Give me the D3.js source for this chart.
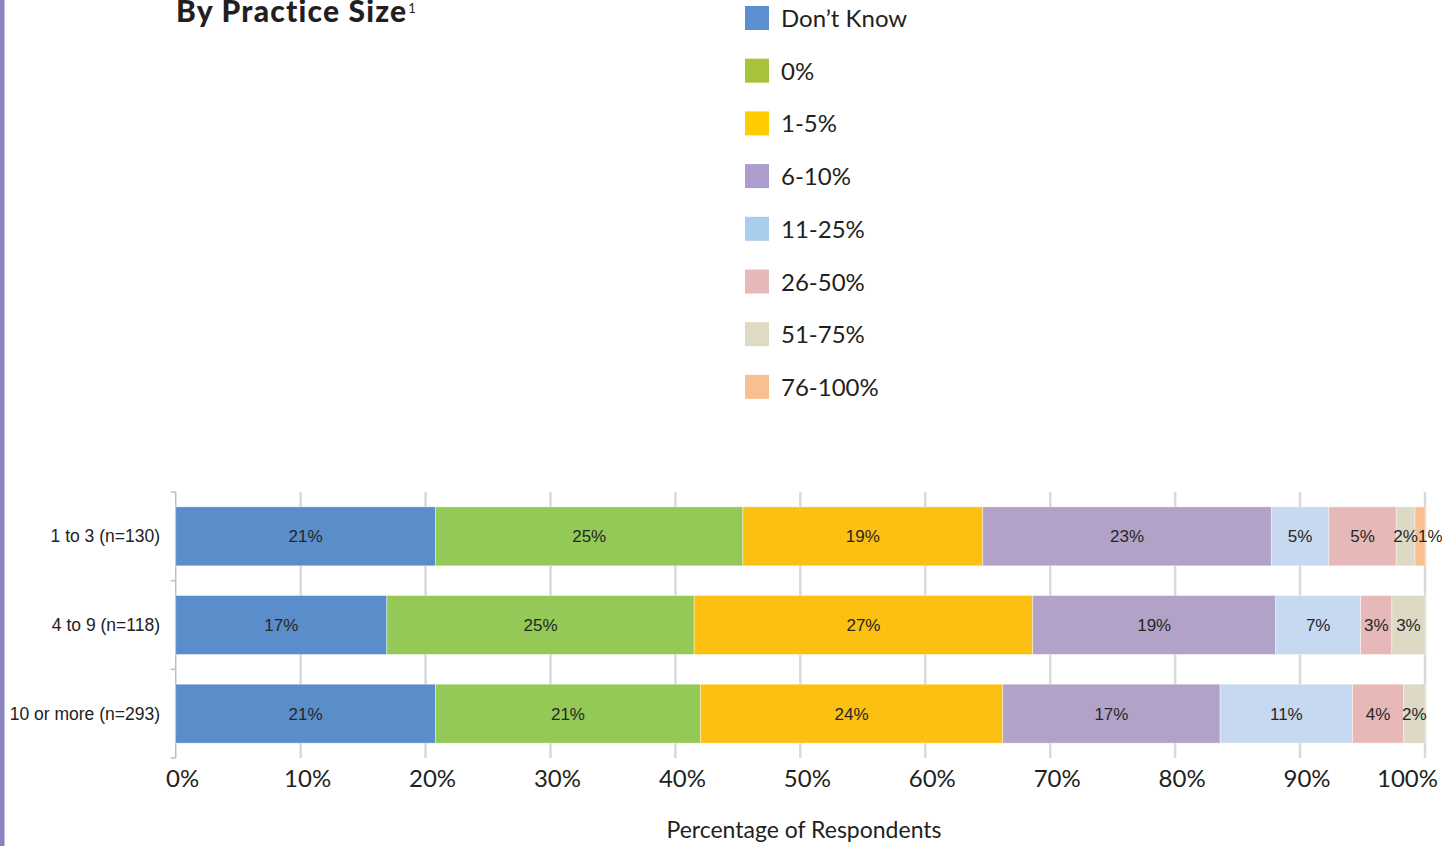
<!DOCTYPE html>
<html>
<head>
<meta charset="utf-8">
<script src="https://cdn.jsdelivr.net/npm/d3@7"></script>
<style>
  html, body { margin: 0; padding: 0; background: #fff; }
  svg { display: block; }
</style>
</head>
<body>
<svg id="chart" width="1442" height="846"></svg>
<script>
// ---- data ----
const categories = ["1 to 3 (n=130)", "4 to 9 (n=118)", "10 or more (n=293)"];
const seriesNames = ["Don\u2019t Know", "0%", "1-5%", "6-10%", "11-25%", "26-50%", "51-75%", "76-100%"];
const dontKnow = [20.8, 16.9, 20.8];
const zero     = [24.6, 24.6, 21.2];
const p1to5    = [19.2, 27.1, 24.2];
const p6to10   = [23.1, 19.45, 17.4];
const p11to25  = [4.6, 6.8, 10.6];
const p26to50  = [5.4, 2.5, 4.1];
const p51to75  = [1.5, 2.65, 1.7];
const p76to100 = [0.8, 0, 0];
const xTicks = [0, 10, 20, 30, 40, 50, 60, 70, 80, 90, 100];
const xTickLabels = ["0%", "10%", "20%", "30%", "40%", "50%", "60%", "70%", "80%", "90%", "100%"];
const titleText = "By Practice Size";
const titleSup = "1";
const xAxisTitle = "Percentage of Respondents";

// ---- styles ----
const barColors = ["#5A8DC9", "#94C857", "#FCC013", "#B3A2C7", "#C6D9F0", "#E6B9B8", "#DDD9C4", "#F9BF8F"];
const legendColors = ["#5B8FCF", "#A6C33B", "#FFCC00", "#AD9DCC", "#A8CDED", "#E6B8B7", "#DEDAC4", "#F8C091"];
const futura = "Lato, 'Noto Sans', sans-serif";
const arial = "'Liberation Sans', Arial, sans-serif";

const seriesValues = [dontKnow, zero, p1to5, p6to10, p11to25, p26to50, p51to75, p76to100];
const rows = categories.map((c, i) => {
  const o = { cat: c };
  seriesNames.forEach((s, j) => o[s] = seriesValues[j][i]);
  return o;
});
const stacked = d3.stack().keys(seriesNames)(rows);

const svg = d3.select("#chart");

// left decorative purple rule
svg.append("rect").attr("x", 0).attr("y", 0).attr("width", 4.5).attr("height", 846).attr("fill", "#8784BE");

// title
const title = svg.append("text").attr("x", 176).attr("y", 22)
  .attr("font-family", futura).attr("font-weight", 900).attr("font-size", 30)
  .attr("letter-spacing", 1.2).attr("fill", "#231F20");
title.append("tspan").text(titleText);
title.append("tspan").attr("font-size", 13).attr("font-weight", 400).attr("letter-spacing", 0)
  .attr("dy", -9).attr("dx", 1).text(titleSup);

// scales
const x = d3.scaleLinear().domain([0, 100]).range([175.7, 1425]);
const y = d3.scaleBand().domain(categories).range([492, 758]).paddingInner(0.335).paddingOuter(0.1675);

// gridlines
svg.append("g").selectAll("line").data(xTicks.filter(t => t > 0)).join("line")
  .attr("x1", d => x(d)).attr("x2", d => x(d))
  .attr("y1", 492).attr("y2", 758)
  .attr("stroke", "#D9D9D9").attr("stroke-width", 2.5);

// left axis
const yAxis = d3.axisLeft(y).tickSize(0).tickFormat("");
const yg = svg.append("g").attr("transform", `translate(${x(0)},0)`).call(yAxis);
yg.select(".domain").remove();
yg.append("line").attr("x1", 0).attr("x2", 0).attr("y1", 492).attr("y2", 758).attr("stroke", "#BFBFBF").attr("stroke-width", 1.5);
const bandEdges = [492].concat(categories.map(c => y(c) + y.bandwidth() + y.step() * y.paddingInner() / 2));
yg.selectAll(".edge").data(bandEdges).join("line").attr("class", "edge")
  .attr("x1", -5).attr("x2", 0).attr("y1", d => d).attr("y2", d => d)
  .attr("stroke", "#BFBFBF").attr("stroke-width", 1.5);

// category labels
svg.append("g").selectAll("text").data(categories).join("text")
  .attr("x", 160).attr("y", d => y(d) + y.bandwidth() / 2 + 6)
  .attr("text-anchor", "end").attr("font-family", arial).attr("font-size", 17.5).attr("fill", "#222")
  .text(d => d);

// bars
const layers = svg.append("g").selectAll("g").data(stacked).join("g")
  .attr("fill", (d, i) => barColors[i]);
layers.selectAll("rect").data(d => d.filter(p => p[1] - p[0] > 0)).join("rect")
  .attr("x", d => x(d[0])).attr("width", d => x(d[1]) - x(d[0]))
  .attr("y", d => y(d.data.cat)).attr("height", y.bandwidth())
  .attr("stroke", "#ffffff").attr("stroke-opacity", 0.5).attr("stroke-width", 0.8);

// bar labels (centred in segment; pushed right if colliding with previous label in the row)
const labelG = svg.append("g");
categories.forEach((cat, ri) => {
  let prevEnd = -Infinity;
  stacked.forEach(layer => {
    const p = layer[ri];
    if (p[1] - p[0] <= 0) return;
    const t = labelG.append("text")
      .attr("y", y(cat) + y.bandwidth() / 2 + 6)
      .attr("text-anchor", "middle").attr("font-family", arial).attr("font-size", 17).attr("fill", "#262626")
      .text(Math.round(p[1] - p[0]) + "%");
    const w = t.node().getComputedTextLength();
    let cx = (x(p[0]) + x(p[1])) / 2;
    if (cx - w / 2 < prevEnd) cx = prevEnd + w / 2;
    t.attr("x", cx);
    prevEnd = cx + w / 2;
  });
});

// x tick labels
svg.append("g").selectAll("text").data(xTicks).join("text")
  .attr("x", (d, i) => i === xTicks.length - 1 ? x(d) + 13 : x(d) + 7)
  .attr("y", 787)
  .attr("text-anchor", (d, i) => i === xTicks.length - 1 ? "end" : "middle")
  .attr("font-family", futura).attr("font-size", 24).attr("fill", "#231F20")
  .text((d, i) => xTickLabels[i]);

// x axis title
svg.append("text").attr("x", 804).attr("y", 838).attr("text-anchor", "middle")
  .attr("font-family", futura).attr("font-size", 23).attr("fill", "#231F20").text(xAxisTitle);

// legend
const leg = svg.append("g").selectAll("g").data(seriesNames).join("g")
  .attr("transform", (d, i) => `translate(745, ${6 + i * 52.7})`);
leg.append("rect").attr("width", 24).attr("height", 24).attr("fill", (d, i) => legendColors[i]);
leg.append("text").attr("x", 36).attr("y", 21)
  .attr("font-family", futura).attr("font-size", 24).attr("fill", "#231F20").text(d => d);
</script>
</body>
</html>
